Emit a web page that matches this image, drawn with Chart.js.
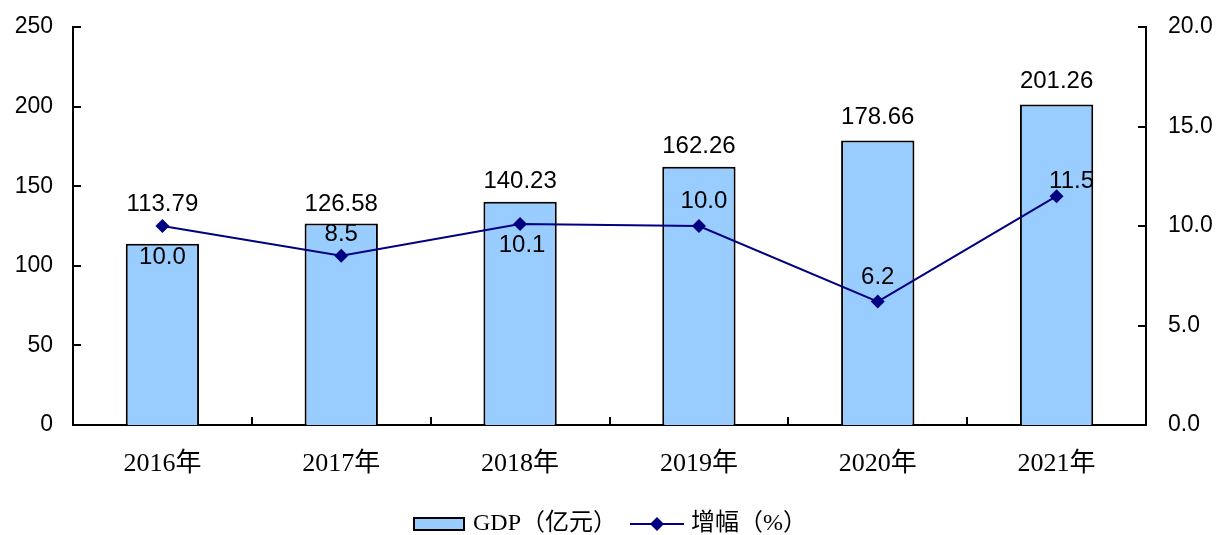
<!DOCTYPE html>
<html>
<head>
<meta charset="utf-8">
<script src="https://cdn.jsdelivr.net/npm/chart.js@4/dist/chart.umd.min.js"></script>
<style>
  html, body { margin: 0; padding: 0; background: #fff; }
  #wrap { width: 1221px; height: 535px; position: relative; }
</style>
</head>
<body>
<div id="wrap"><canvas id="gdpChart" width="1221" height="535"></canvas></div>
<script>
// ── Data ──
const years = ['2016年', '2017年', '2018年', '2019年', '2020年', '2021年'];
const gdpValues = [113.79, 126.58, 140.23, 162.26, 178.66, 201.26];
const growthValues = [10.0, 8.5, 10.1, 10.0, 6.2, 11.5];
const leftTicks = [0, 50, 100, 150, 200, 250];
const rightTicks = [0, 5, 10, 15, 20];

// label placement (style only): pixel shift of each value label
const barLabelLift = [39, 19, 20, 20, 23, 23];
const lineLabelShift = [31, -21, 21, -25, -24, -15];
const lineLabelDx = [0, 0, 2, 5, 0, 15];

const NAVY = '#000080';
const sansFont = "'Liberation Sans', Arial, sans-serif";
const serifFont = "'Liberation Serif', 'Noto Sans CJK SC', serif";

// ── Inward tick marks ──
const innerTicks = {
    id: 'innerTicks',
    afterDatasetsDraw(chart) {
        const { ctx, chartArea, scales } = chart;
        ctx.save();
        ctx.strokeStyle = '#000';
        ctx.lineWidth = 2;
        ctx.beginPath();
        leftTicks.forEach(v => {
            const y = Math.round(scales.y.getPixelForValue(v));
            ctx.moveTo(chartArea.left, y);
            ctx.lineTo(chartArea.left + 8, y);
        });
        rightTicks.forEach(v => {
            const y = Math.round(scales.y1.getPixelForValue(v));
            ctx.moveTo(chartArea.right, y);
            ctx.lineTo(chartArea.right - 8, y);
        });
        const step = (chartArea.right - chartArea.left) / years.length;
        for (let i = 1; i < years.length; i++) {
            const x = Math.round(chartArea.left + step * i);
            ctx.moveTo(x, chartArea.bottom);
            ctx.lineTo(x, chartArea.bottom - 8);
        }
        ctx.stroke();
        ctx.restore();
    }
};

// ── Value labels ──
const valueLabels = {
    id: 'valueLabels',
    afterDatasetsDraw(chart) {
        const { ctx } = chart;
        const barMeta = chart.getDatasetMeta(chart.data.datasets.findIndex(d => d.type === 'bar'));
        const lineMeta = chart.getDatasetMeta(chart.data.datasets.findIndex(d => d.type === 'line'));
        ctx.save();
        ctx.fillStyle = '#000';
        ctx.font = '24px ' + sansFont;
        ctx.textAlign = 'center';
        ctx.textBaseline = 'middle';
        barMeta.data.forEach((bar, i) => {
            ctx.fillText(gdpValues[i].toFixed(2), bar.x, bar.y - barLabelLift[i]);
        });
        lineMeta.data.forEach((pt, i) => {
            ctx.fillText(growthValues[i].toFixed(1), pt.x + lineLabelDx[i], pt.y + lineLabelShift[i]);
        });
        ctx.restore();
    }
};

// ── Legend at the bottom ──
const bottomLegend = {
    id: 'bottomLegend',
    afterDraw(chart) {
        const { ctx } = chart;
        const cy = 524;
        ctx.save();
        ctx.fillStyle = '#99CCFF';
        ctx.strokeStyle = '#000';
        ctx.lineWidth = 2;
        ctx.fillRect(414, cy - 6, 50, 12);
        ctx.strokeRect(414, cy - 6, 50, 12);

        ctx.fillStyle = '#000';
        ctx.font = '24px ' + serifFont;
        ctx.textBaseline = 'middle';
        ctx.textAlign = 'left';
        ctx.fillText('GDP（亿元）', 473, cy);

        ctx.strokeStyle = NAVY;
        ctx.lineWidth = 2;
        ctx.beginPath();
        ctx.moveTo(630, cy);
        ctx.lineTo(684, cy);
        ctx.stroke();
        ctx.fillStyle = NAVY;
        ctx.beginPath();
        ctx.moveTo(657, cy - 7);
        ctx.lineTo(664, cy);
        ctx.lineTo(657, cy + 7);
        ctx.lineTo(650, cy);
        ctx.closePath();
        ctx.fill();

        ctx.fillStyle = '#000';
        ctx.fillText('增幅（%）', 691, cy);
        ctx.restore();
    }
};

// fix the plot box so it lines up with the picture
function fitY(width) {
    return s => {
        s.width = width;
        s.paddingTop = 27;
        s.paddingBottom = 0;
    };
}

new Chart(document.getElementById('gdpChart'), {
    data: {
        labels: years,
        datasets: [
            {
                type: 'line',
                label: '增幅（%）',
                data: growthValues,
                yAxisID: 'y1',
                borderColor: NAVY,
                borderWidth: 2,
                backgroundColor: NAVY,
                pointStyle: 'rectRot',
                pointRadius: 7,
                pointHoverRadius: 7,
                pointBorderWidth: 0,
                tension: 0,
                order: 0
            },
            {
                type: 'bar',
                label: 'GDP（亿元）',
                data: gdpValues,
                yAxisID: 'y',
                backgroundColor: '#99CCFF',
                borderColor: '#000',
                borderWidth: 2,
                barPercentage: 0.41,
                categoryPercentage: 1,
                order: 1
            }
        ]
    },
    options: {
        responsive: false,
        animation: false,
        events: [],
        layout: { padding: 0 },
        plugins: {
            legend: { display: false },
            tooltip: { enabled: false }
        },
        scales: {
            x: {
                grid: { display: false, drawTicks: false },
                border: { display: true, color: '#000', width: 2 },
                ticks: {
                    color: '#000',
                    padding: 24,
                    font: { family: serifFont, size: 26 }
                },
                afterFit: s => { s.height = 110; s.paddingLeft = 0; s.paddingRight = 0; }
            },
            y: {
                position: 'left',
                min: 0,
                max: 250,
                grid: { display: false, drawTicks: false },
                border: { display: true, color: '#000', width: 2 },
                afterBuildTicks: s => { s.ticks = leftTicks.map(v => ({ value: v })); },
                ticks: {
                    color: '#000',
                    padding: 20,
                    font: { family: sansFont, size: 23 },
                    callback: v => v
                },
                afterFit: fitY(73)
            },
            y1: {
                position: 'right',
                min: 0,
                max: 20,
                grid: { display: false, drawTicks: false },
                border: { display: true, color: '#000', width: 2 },
                afterBuildTicks: s => { s.ticks = rightTicks.map(v => ({ value: v })); },
                ticks: {
                    color: '#000',
                    padding: 22,
                    font: { family: sansFont, size: 23 },
                    callback: v => Number(v).toFixed(1)
                },
                afterFit: fitY(75)
            }
        }
    },
    plugins: [innerTicks, valueLabels, bottomLegend]
});
</script>
</body>
</html>
